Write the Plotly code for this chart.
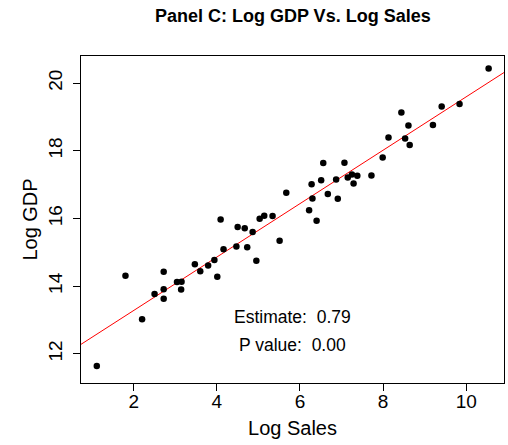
import numpy as np
import plotly.graph_objects as go

# Data
log_sales = [1.11, 1.80, 2.20, 2.50, 2.72, 2.72, 2.72, 3.04, 3.15, 3.14,
             3.47, 3.60, 3.79, 3.94, 4.01, 4.09, 4.16, 4.47, 4.50, 4.67,
             4.73, 4.86, 4.95, 5.03, 5.14, 5.34, 5.51, 5.67, 6.22, 6.28,
             6.30, 6.40, 6.51, 6.56, 6.67, 6.87, 6.91, 7.07, 7.15, 7.25,
             7.29, 7.38, 7.72, 7.99, 8.13, 8.44, 8.53, 8.61, 8.64, 9.20,
             9.41, 9.84, 10.54]
log_gdp = [11.64, 14.31, 13.02, 13.77, 14.43, 13.91, 13.63, 14.12, 14.13, 13.90,
           14.65, 14.44, 14.61, 14.77, 14.28, 15.97, 15.09, 15.17, 15.75, 15.71,
           15.15, 15.60, 14.75, 15.99, 16.08, 16.07, 15.34, 16.76, 16.24, 17.01,
           16.59, 15.93, 17.13, 17.64, 16.72, 17.15, 16.58, 17.65, 17.21, 17.30,
           17.03, 17.26, 17.27, 17.80, 18.39, 19.13, 18.36, 18.75, 18.17, 18.76,
           19.31, 19.38, 20.43]
x_ticks = [2, 4, 6, 8, 10]
y_ticks = [12, 14, 16, 18, 20]
estimate_label = "Estimate:  0.79"
pvalue_label = "P value:  0.00"

X_RANGE = [0.73, 10.91]
Y_RANGE = [11.14, 20.80]

slope, intercept = np.polyfit(log_sales, log_gdp, 1)
line_x = np.array(X_RANGE)
line_y = intercept + slope * line_x

FONT = "Liberation Sans, Arial, sans-serif"

fig = go.Figure()
fig.add_trace(go.Scatter(x=line_x, y=line_y, mode="lines",
                         line=dict(color="red", width=1), hoverinfo="skip",
                         showlegend=False))
fig.add_trace(go.Scatter(x=log_sales, y=log_gdp, mode="markers",
                         marker=dict(color="black", size=6.5), showlegend=False))

fig.add_annotation(x=5.82, y=13.09, xref="x", yref="y", text=estimate_label,
                   showarrow=False, font=dict(family=FONT, size=17.5, color="black"))
fig.add_annotation(x=5.82, y=12.25, xref="x", yref="y", text=pvalue_label,
                   showarrow=False, font=dict(family=FONT, size=17.5, color="black"))

fig.update_layout(
    width=508, height=445,
    margin=dict(l=81, r=4, t=56, b=62),
    paper_bgcolor="white", plot_bgcolor="white",
    font=dict(family=FONT, color="black"),
    title=dict(text="<b>Panel C: Log GDP Vs. Log Sales</b>", x=0.5764, xanchor="center",
               y=1 - 16 / 445, yanchor="middle", yref="container",
               font=dict(family=FONT, size=18, color="black")),
    xaxis=dict(range=X_RANGE, tickvals=x_ticks, ticks="outside", ticklen=7,
               tickcolor="black", showgrid=False, zeroline=False, showline=True,
               linecolor="black", linewidth=1, mirror=True, ticklabelstandoff=-6,
               tickfont=dict(family=FONT, size=19, color="black"),
               title=dict(text="Log Sales", font=dict(family=FONT, size=20, color="black"),
                          standoff=10)),
    yaxis=dict(range=Y_RANGE, tickvals=y_ticks, ticks="outside", ticklen=7,
               tickcolor="black", showgrid=False, zeroline=False, showline=True,
               linecolor="black", linewidth=1, mirror=True, tickangle=-90,
               ticklabelstandoff=3,
               tickfont=dict(family=FONT, size=19, color="black"),
               title=dict(text="Log GDP", font=dict(family=FONT, size=20, color="black"),
                          standoff=2)),
)

fig.write_html("out.html")
